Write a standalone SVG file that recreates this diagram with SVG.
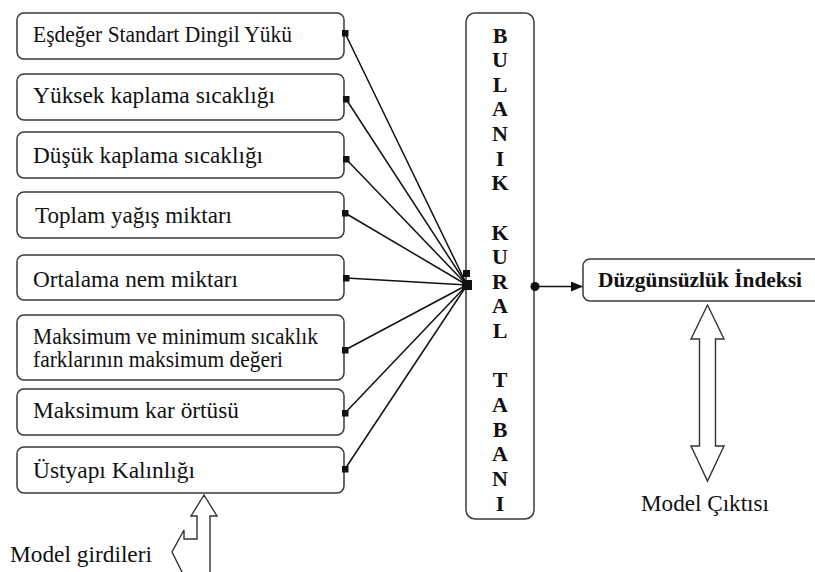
<svg xmlns="http://www.w3.org/2000/svg" width="815" height="572" viewBox="0 0 815 572">
  <style>
    .box { fill: #ffffff; stroke: #3a3a3a; stroke-width: 1.5; }
    .lbl { font-family: "Liberation Serif", "Times New Roman", serif; font-size: 23px; fill: #111111; }
    .bold { font-family: "Liberation Serif", "Times New Roman", serif; font-weight: bold; fill: #111111; }
    .vert { font-size: 22px; text-anchor: middle; }
    .link { stroke: #111111; stroke-width: 1.5; fill: none; }
    .big { fill: #ffffff; stroke: #333333; stroke-width: 1.4; stroke-linejoin: miter; }
  </style>
  <defs>
    <marker id="sq" markerWidth="7" markerHeight="7" refX="3.5" refY="3.5" markerUnits="userSpaceOnUse">
      <rect x="0" y="0" width="7" height="7" fill="#111111"/>
    </marker>
    <marker id="arrow" markerWidth="12" markerHeight="10" refX="11" refY="5" orient="auto" markerUnits="userSpaceOnUse">
      <path d="M0,0 L12,5 L0,10 Z" fill="#111111"/>
    </marker>
  </defs>

  <rect width="815" height="572" fill="#ffffff"/>

  <!-- input factors -->
  <g id="in1">
    <rect class="box" x="17" y="13" width="327" height="46" rx="7"/>
    <text class="lbl" x="33" y="42" textLength="259" lengthAdjust="spacingAndGlyphs">Eşdeğer Standart Dingil Yükü</text>
  </g>
  <g id="in2">
    <rect class="box" x="17" y="74" width="327" height="46" rx="7"/>
    <text class="lbl" x="33" y="103" textLength="242" lengthAdjust="spacingAndGlyphs">Yüksek kaplama sıcaklığı</text>
  </g>
  <g id="in3">
    <rect class="box" x="17" y="132" width="327" height="46" rx="7"/>
    <text class="lbl" x="33" y="163" textLength="230" lengthAdjust="spacingAndGlyphs">Düşük kaplama sıcaklığı</text>
  </g>
  <g id="in4">
    <rect class="box" x="17" y="192" width="327" height="46" rx="7"/>
    <text class="lbl" x="35" y="223" textLength="197" lengthAdjust="spacingAndGlyphs">Toplam yağış miktarı</text>
  </g>
  <g id="in5">
    <rect class="box" x="17" y="255" width="327" height="45" rx="7"/>
    <text class="lbl" x="33" y="287" textLength="205" lengthAdjust="spacingAndGlyphs">Ortalama nem miktarı</text>
  </g>
  <g id="in6">
    <rect class="box" x="17" y="315" width="327" height="65" rx="7"/>
    <text class="lbl" x="33" y="344" textLength="285" lengthAdjust="spacingAndGlyphs">Maksimum ve minimum sıcaklık</text>
    <text class="lbl" x="33" y="367" textLength="250" lengthAdjust="spacingAndGlyphs">farklarının maksimum değeri</text>
  </g>
  <g id="in7">
    <rect class="box" x="17" y="389" width="327" height="46" rx="7"/>
    <text class="lbl" x="33" y="418" textLength="206" lengthAdjust="spacingAndGlyphs">Maksimum kar örtüsü</text>
  </g>
  <g id="in8">
    <rect class="box" x="17" y="447" width="327" height="46" rx="7"/>
    <text class="lbl" x="33" y="478" textLength="162" lengthAdjust="spacingAndGlyphs">Üstyapı Kalınlığı</text>
  </g>

  <!-- fuzzy rule base -->
  <g id="rulebase">
    <rect class="box" x="466" y="13" width="68" height="506" rx="9"/>
    <g class="bold vert">
      <text x="500" y="42.5">B</text>
      <text x="500" y="67.1">U</text>
      <text x="500" y="91.8">L</text>
      <text x="500" y="116.4">A</text>
      <text x="500" y="141">N</text>
      <text x="500" y="165.7">I</text>
      <text x="500" y="190.3">K</text>
      <text x="500" y="239.5">K</text>
      <text x="500" y="264.2">U</text>
      <text x="500" y="288.8">R</text>
      <text x="500" y="313.4">A</text>
      <text x="500" y="338.1">L</text>
      <text x="500" y="387.3">T</text>
      <text x="500" y="412">A</text>
      <text x="500" y="436.6">B</text>
      <text x="500" y="461.2">A</text>
      <text x="500" y="485.8">N</text>
      <text x="500" y="510.5">I</text>
    </g>
  </g>

  <!-- output -->
  <g id="output">
    <rect class="box" x="583" y="259" width="262" height="42" rx="7"/>
    <text class="bold" x="598" y="287" font-size="21.5" textLength="204" lengthAdjust="spacingAndGlyphs">Düzgünsüzlük İndeksi</text>
  </g>

  <!-- connectors -->
  <g id="connectors">
    <line class="link" x1="345" y1="33" x2="467" y2="285" marker-start="url(#sq)"/>
    <line class="link" x1="346" y1="99" x2="467" y2="285" marker-start="url(#sq)"/>
    <line class="link" x1="346" y1="159" x2="467" y2="285" marker-start="url(#sq)"/>
    <line class="link" x1="345" y1="213" x2="467" y2="285" marker-start="url(#sq)"/>
    <line class="link" x1="346" y1="278" x2="467" y2="285" marker-start="url(#sq)"/>
    <line class="link" x1="345" y1="350" x2="467" y2="285" marker-start="url(#sq)"/>
    <line class="link" x1="345" y1="413" x2="467" y2="285" marker-start="url(#sq)"/>
    <line class="link" x1="345" y1="469" x2="467" y2="285" marker-start="url(#sq)"/>
    <rect x="463" y="270" width="7" height="7" fill="#111111"/>
    <rect x="462" y="280" width="10" height="10" fill="#111111"/>
    <circle cx="535" cy="286.5" r="4.5" fill="#111111"/>
    <line class="link" x1="535" y1="286.5" x2="582" y2="286.5" marker-end="url(#arrow)"/>
  </g>

  <!-- model inputs -->
  <g id="model-inputs">
    <polygon class="big" points="204,495 217,516 210,516 210,578 184,578 184,576 172,552 184,530 184,539 197,539 197,516 191,516"/>
    <text class="lbl" x="10" y="562" textLength="142" lengthAdjust="spacingAndGlyphs">Model girdileri</text>
  </g>

  <!-- model output -->
  <g id="model-output">
    <polygon class="big" points="707.5,305 724,339 715.5,339 715.5,446 724,446 707.5,481 691,446 699.5,446 699.5,339 691,339"/>
    <text class="lbl" x="641" y="511" textLength="128" lengthAdjust="spacingAndGlyphs">Model Çıktısı</text>
  </g>
</svg>
